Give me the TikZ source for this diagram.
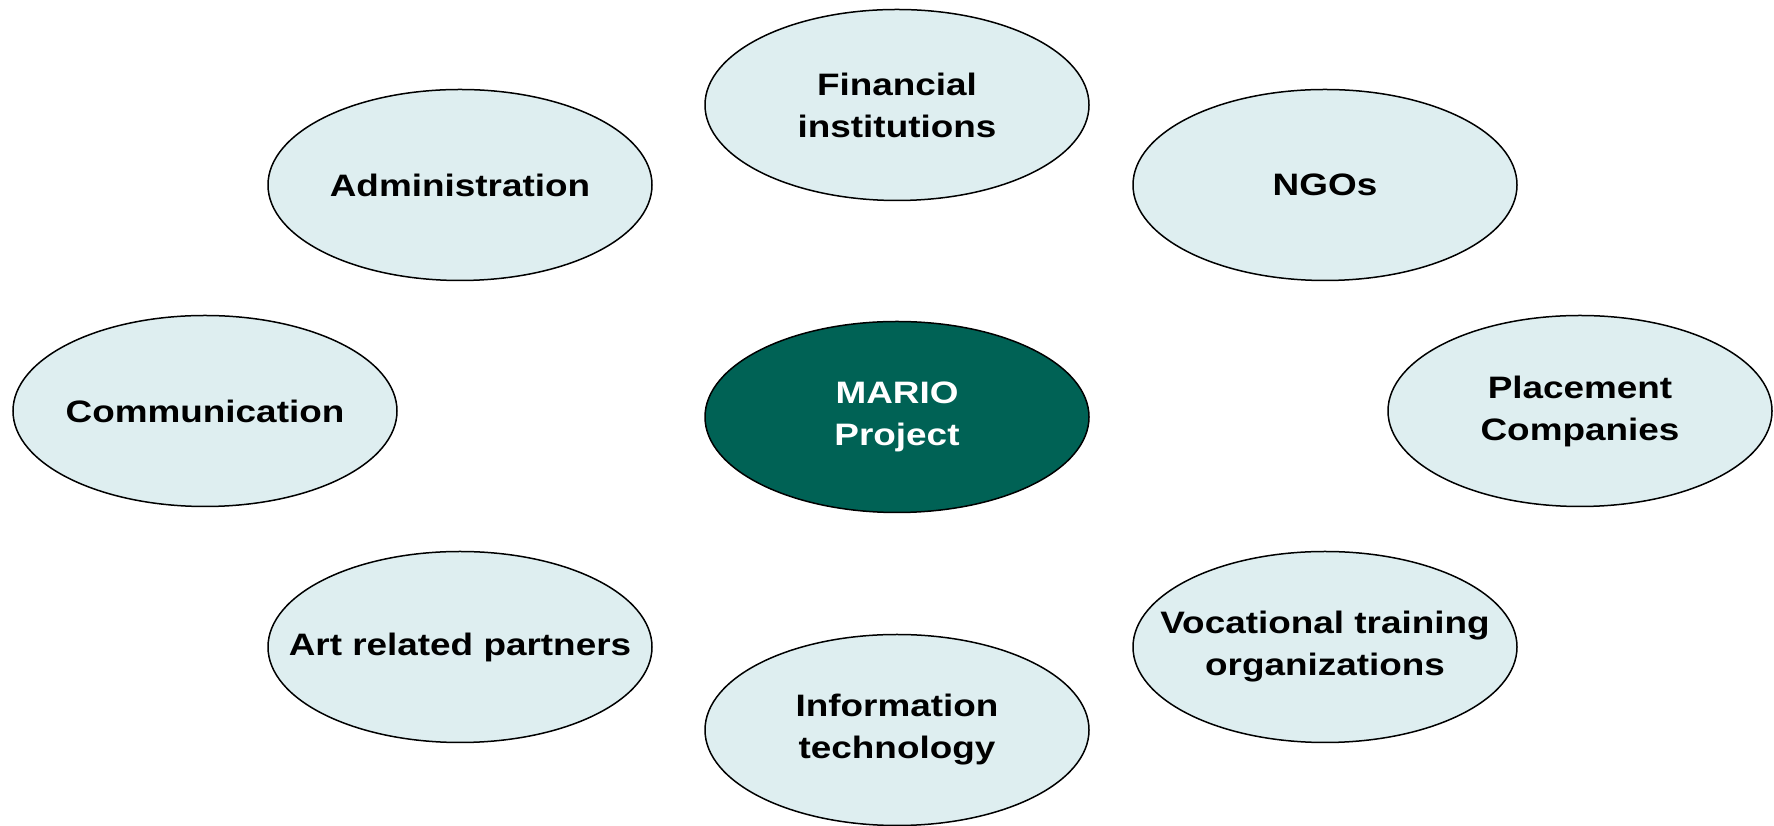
\documentclass[tikz,border=0pt]{standalone}
\usepackage{fontspec}
\setmainfont{Liberation Sans}[FakeStretch=1.19]
\usetikzlibrary{shapes.geometric}

\definecolor{partnerfill}{RGB}{222,238,240}
\definecolor{mariogreen}{RGB}{0,98,85}

\tikzset{
  partner/.style={ellipse, draw=black, line width=1.5pt, fill=partnerfill,
    minimum width=384pt, minimum height=191pt,
    inner xsep=-60pt, inner ysep=-20pt,
    align=center, font=\fontsize{31}{42}\selectfont\bfseries},
  hub/.style={partner, fill=mariogreen, text=white}
}

\begin{document}
\begin{tikzpicture}[x=1pt, y=1pt]

  \useasboundingbox (0,0) rectangle (1774,826);

  \node[hub] (mario) at (897, 409) {MARIO\\Project};

  \node[partner] (fin)   at (897, 721) {Financial\\institutions};
  \node[partner] (admin) at (460, 641) {Administration};
  \node[partner] (ngo)   at (1325, 641) {NGOs};
  \node[partner] (comm)  at (205, 415) {Communication};
  \node[partner] (place) at (1580, 415) {Placement\\Companies};
  \node[partner] (art)   at (460, 179) {Art related partners};
  \node[partner] (voc)   at (1325, 179) {Vocational training\\organizations};
  \node[partner] (info)  at (897, 96) {Information\\technology};

\end{tikzpicture}
\end{document}
